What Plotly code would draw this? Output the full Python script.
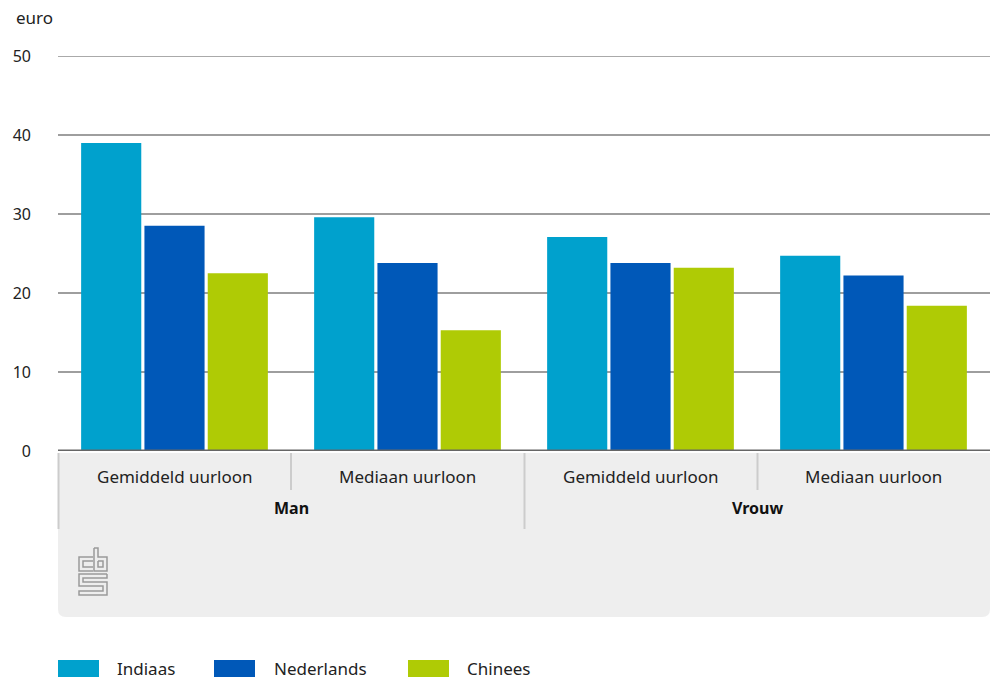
import plotly.graph_objects as go

# ---- data ----
categories = ["Man|Gemiddeld uurloon", "Man|Mediaan uurloon",
              "Vrouw|Gemiddeld uurloon", "Vrouw|Mediaan uurloon"]
inner_labels = ["Gemiddeld uurloon", "Mediaan uurloon", "Gemiddeld uurloon", "Mediaan uurloon"]
outer_labels = ["Man", "Vrouw"]
series_names = ["Indiaas", "Nederlands", "Chinees"]
indiaas = [39.0, 29.6, 27.1, 24.7]
nederlands = [28.5, 23.8, 23.8, 22.2]
chinees = [22.5, 15.3, 23.2, 18.4]
y_ticks = [0, 10, 20, 30, 40, 50]

colors = ["#00A1CD", "#0058B8", "#AFCB05"]
FONT = "Noto Sans"
TXT = "#222222"

W, H = 991, 680
L, R, T, B = 58, 1, 56, 229
PW = W - L - R
PH = H - T - B


def px(x):
    return (x - L) / PW


def py(y):
    return (H - B - y) / PH


fig = go.Figure()
for name, vals, col in zip(series_names, [indiaas, nederlands, chinees], colors):
    fig.add_trace(go.Bar(x=categories, y=vals, name=name, marker_color=col,
                         marker_line_width=0, showlegend=False))

shapes = []
# grey category box with rounded bottom corners
x0, x1, y0, y1, r = px(58), px(990), py(453), py(617), 8
rx, ry = r / PW, r / PH
path = (f"M {x0},{y0} L {x1},{y0} L {x1},{y1 + ry} Q {x1},{y1} {x1 - rx},{y1} "
        f"L {x0 + rx},{y1} Q {x0},{y1} {x0},{y1 + ry} Z")
shapes.append(dict(type="path", xref="paper", yref="paper", path=path,
                   fillcolor="#EEEEEE", line=dict(width=0), layer="below"))
# dividers
for xd, yb in [(58.5, 529), (291, 490), (524.5, 529), (757.5, 490)]:
    shapes.append(dict(type="line", xref="paper", yref="paper",
                       x0=px(xd), x1=px(xd), y0=py(453), y1=py(yb),
                       line=dict(color="#CCCCCC", width=2)))
# top gridline (at the edge of the plot area)
shapes.append(dict(type="line", xref="paper", yref="y", x0=0, x1=1, y0=y_ticks[-1], y1=y_ticks[-1],
                   line=dict(color="#8E8E8E", width=1.5), layer="below"))
# baseline axis
shapes.append(dict(type="line", xref="paper", yref="y", x0=0, x1=1, y0=0, y1=0,
                   line=dict(color="#666666", width=3)))

# CBS logo (approximate outline)
logo_paths = [
    [(93, 557), (79, 557), (79, 571), (93, 571)],
    [(93, 561), (83, 561), (83, 567), (93, 567)],
    [(94, 548), (94, 571), (107, 571), (107, 557), (98, 557), (98, 548), (94, 548)],
    [(98, 561), (103, 561), (103, 567), (98, 567), (98, 561)],
    [(107, 574), (79, 574), (79, 586), (103, 586), (103, 591), (79, 591), (79, 595), (107, 595),
     (107, 582), (83, 582), (83, 578), (107, 578), (107, 574)],
]
for pts in logo_paths:
    d = "M " + " L ".join(f"{px(a)},{py(b)}" for a, b in pts)
    shapes.append(dict(type="path", xref="paper", yref="paper", path=d,
                       line=dict(color="#9A9A9A", width=1.5)))

# legend swatches
legend_pos = [(58, 115), (214, 272), (408, 465)]
for (sx, tx), col in zip(legend_pos, colors):
    shapes.append(dict(type="rect", xref="paper", yref="paper",
                       x0=px(sx), x1=px(sx + 41), y0=py(660), y1=py(677),
                       fillcolor=col, line=dict(width=0)))

annotations = []
for cat, lab in zip(categories, inner_labels):
    annotations.append(dict(x=cat, xref="x", y=py(477), yref="paper", text=lab,
                            showarrow=False, font=dict(family=FONT, size=17, color=TXT),
                            xanchor="center", yanchor="middle"))
for lab, cx in zip(outer_labels, [291, 757]):
    annotations.append(dict(x=px(cx), xref="paper", y=py(508), yref="paper",
                            text=f"<b>{lab}</b>", showarrow=False,
                            font=dict(family=FONT, size=16, color="#111111"),
                            xanchor="center", yanchor="middle"))
for (sx, tx), name in zip(legend_pos, series_names):
    annotations.append(dict(x=px(tx), xref="paper", y=py(668), yref="paper", text=name,
                            showarrow=False, font=dict(family=FONT, size=17, color=TXT),
                            xanchor="left", yanchor="middle"))
annotations.append(dict(x=px(14), xref="paper", y=py(18), yref="paper", text="euro",
                        showarrow=False, font=dict(family=FONT, size=17, color=TXT),
                        xanchor="left", yanchor="middle"))

fig.update_layout(
    width=W, height=H,
    margin=dict(l=L, r=R, t=T, b=B),
    paper_bgcolor="white", plot_bgcolor="white",
    barmode="group", bargap=0.185, bargroupgap=0.05,
    font=dict(family=FONT, size=16, color=TXT),
    shapes=shapes, annotations=annotations,
    showlegend=False,
    xaxis=dict(type="category", categoryorder="array", categoryarray=categories,
               showticklabels=False, showgrid=False, zeroline=False, showline=False,
               ticks="", range=[-0.5, 3.5], fixedrange=True),
    yaxis=dict(range=[0, 50], tickvals=y_ticks, showgrid=True, gridcolor="#9E9E9E",
               gridwidth=1.5, zeroline=False, showline=False, ticks="",
               ticklabelstandoff=26, tickfont=dict(family=FONT, size=16, color=TXT),
               fixedrange=True),
)

fig.write_html("out.html", post_script="document.body.style.margin='0';",
               config={"displayModeBar": False})
